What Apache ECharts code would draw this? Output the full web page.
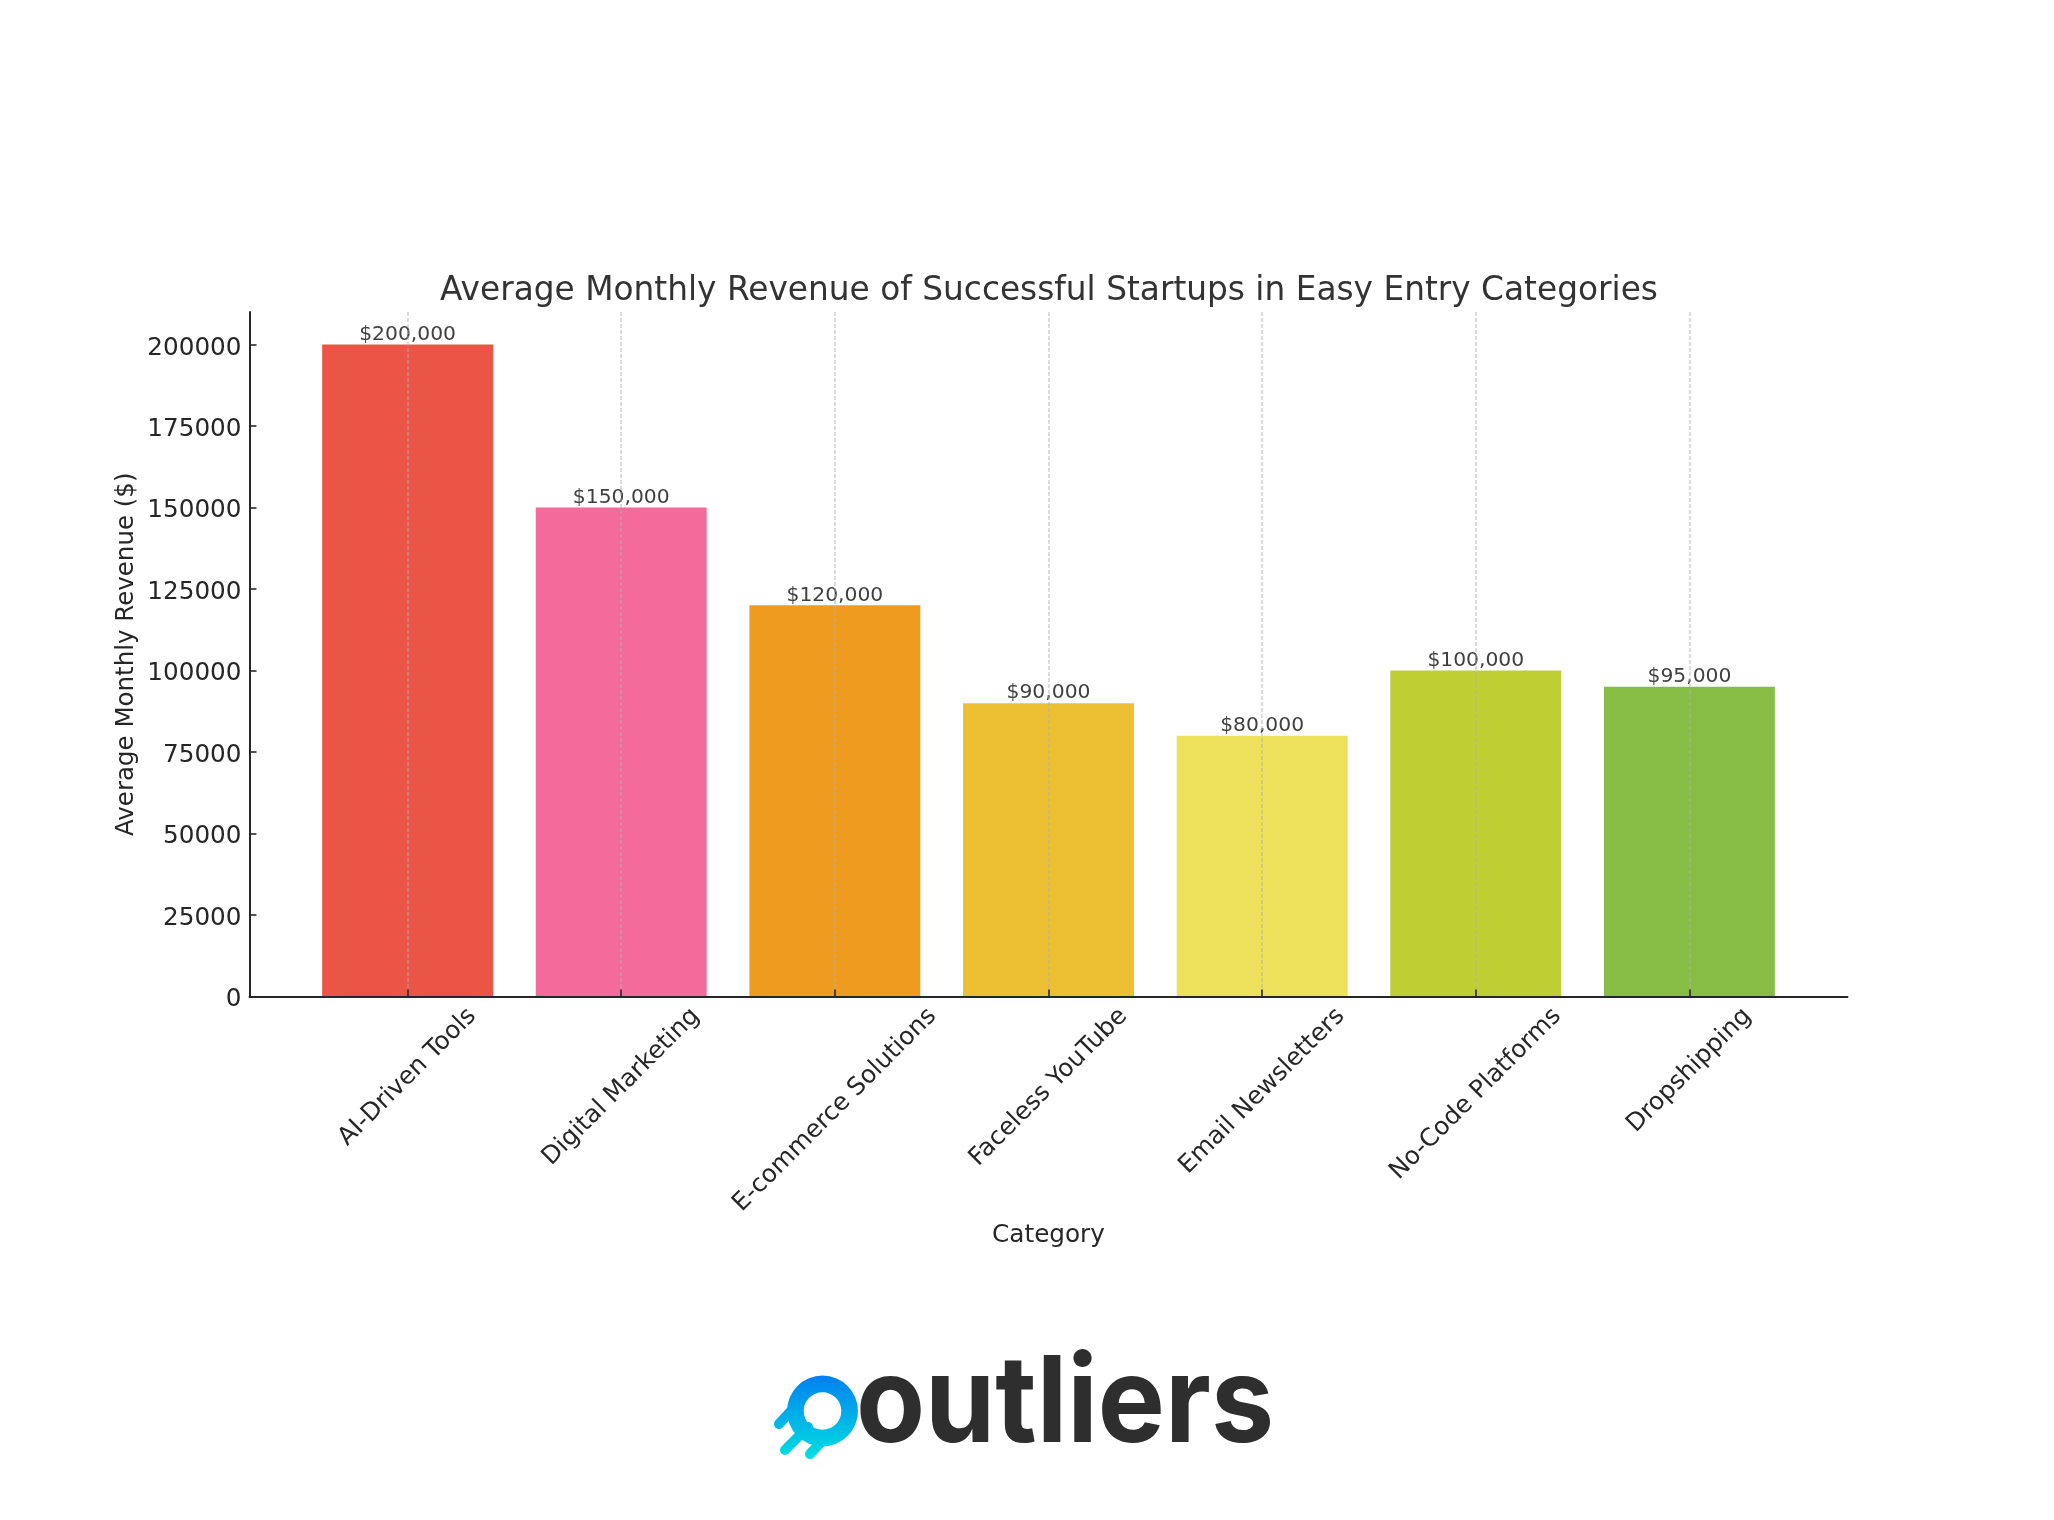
<!DOCTYPE html>
<html><head><meta charset="utf-8">
<style>html,body{margin:0;padding:0;background:#fff}#c{width:2054px;height:1520px}</style>
<script src="https://cdn.jsdelivr.net/npm/echarts@6/dist/echarts.min.js"></script>
</head><body><div id="c"></div>
<script>
const categories = ['AI-Driven Tools','Digital Marketing','E-commerce Solutions','Faceless YouTube','Email Newsletters','No-Code Platforms','Dropshipping'];
const revenue = [200000,150000,120000,90000,80000,100000,95000];
const barColors = ['#ea5545','#f46a9b','#ef9b20','#edbf33','#ede15b','#bdcf32','#87bc45'];
const yTicks = [0,25000,50000,75000,100000,125000,150000,175000,200000];
const xTicks = [0,1,2,3,4,5,6];
const FONT = '"DejaVu Sans"';
const DARK = '#262626';
const LABEL_SIZE = 24.7;

const ctx = document.createElement('canvas').getContext('2d');
ctx.font = LABEL_SIZE + 'px ' + FONT;
// Centre the rotated label on its tick, with the top of its rotated box level for all labels.
const rich = {};
categories.forEach((c,i)=>{
  const pad = (ctx.measureText(c).width + 28) / 2;
  rich['s'+i] = {fontFamily:FONT,fontSize:LABEL_SIZE,color:DARK,padding:[pad,pad,0,0],lineHeight:28};
});

const chart = echarts.init(document.getElementById('c'),null,{renderer:'canvas'});
const iconGrad = {type:'linear',x:0,y:1376,x2:0,y2:1458,global:true,
  colorStops:[{offset:0,color:'#0080f0'},{offset:1,color:'#00dfe0'}]};
const streak = (x1,y1,x2,y2)=>({type:'line',z:10,shape:{x1,y1,x2,y2},
  style:{stroke:iconGrad,lineWidth:10,lineCap:'round'}});
chart.setOption({
  animation:false,
  backgroundColor:'#ffffff',
  title:{text:'Average Monthly Revenue of Successful Startups in Easy Entry Categories',
    left:1044,top:270,textAlign:'center',
    textStyle:{fontFamily:FONT,fontSize:32.8,fontWeight:'normal',color:'#333333'}},
  grid:{left:249.5,right:206.5,top:312,bottom:523.5},
  xAxis:{type:'value',min:-0.74,max:6.74,z:3,
    name:'Category',nameLocation:'middle',nameGap:227,nameMoveOverlap:false,
    nameTextStyle:{fontFamily:FONT,fontSize:LABEL_SIZE,color:DARK},
    axisLine:{show:true,lineStyle:{color:DARK,width:2}},
    axisTick:{show:true,inside:true,length:7,customValues:xTicks,lineStyle:{color:DARK,width:1.6}},
    axisLabel:{show:true,rotate:45,margin:6,align:'center',verticalAlign:'middle',customValues:xTicks,
      formatter:v=>'{s'+v+'|'+categories[v]+'}',rich},
    splitLine:{show:true,lineStyle:{color:'rgba(176,176,176,0.6)',width:1.5,type:[4,2]}}
  },
  yAxis:{type:'value',min:0,max:210000,
    name:'Average Monthly Revenue ($)',nameLocation:'middle',nameGap:110,nameMoveOverlap:false,
    nameTextStyle:{fontFamily:FONT,fontSize:24.5,color:DARK},
    axisLine:{show:true,onZero:false,lineStyle:{color:DARK,width:2}},
    axisTick:{show:true,inside:true,length:7,customValues:yTicks,lineStyle:{color:DARK,width:1.6}},
    axisLabel:{show:true,margin:8,customValues:yTicks,fontFamily:FONT,fontSize:LABEL_SIZE,color:DARK,
      verticalAlign:'top',lineHeight:7,formatter:v=>String(v)},
    splitLine:{show:false}
  },
  series:[{type:'bar',barWidth:'80%',
    data:revenue.map((v,i)=>({value:[i,v],itemStyle:{color:barColors[i]}})),
    label:{show:true,position:'top',distance:0,fontFamily:FONT,fontSize:20.3,color:'#404040',
      formatter:p=>'$'+p.value[1].toLocaleString('en-US')}
  }],
  graphic:[
    {type:'ring',z:10,shape:{cx:822.5,cy:1411,r:35.5,r0:18.8},style:{fill:iconGrad}},
    streak(779,1424,792,1410),
    streak(785,1450,808,1427),
    streak(810,1454,826,1437),
    {type:'text',z:10,x:856,y:1466,scaleX:0.939,style:{text:'outliers',fontFamily:'Inter',fontWeight:700,fontSize:120,
      fill:'#2e2e2e',verticalAlign:'bottom'}}
  ]
});
</script></body></html>
